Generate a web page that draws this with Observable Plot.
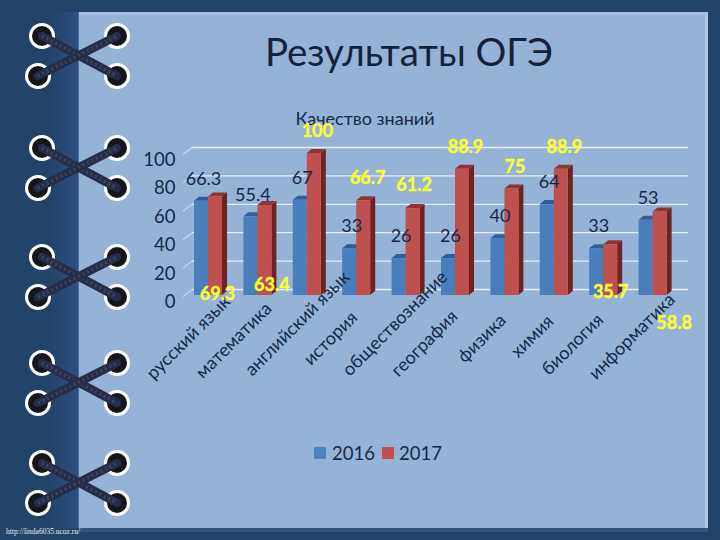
<!DOCTYPE html>
<html><head><meta charset="utf-8">
<script src="https://cdn.jsdelivr.net/npm/d3@7"></script>
<script src="https://cdn.jsdelivr.net/npm/@observablehq/plot@0.6"></script>
<style>
html,body{margin:0;padding:0;width:720px;height:540px;overflow:hidden;background:#234469;font-family:Lato,"Noto Sans",sans-serif;color:#14294a}
#strip{position:absolute;left:0;top:12px;width:79px;height:516px;background:linear-gradient(90deg,#234469 0%,#234469 65%,#2d5080 100%)}
#panel{position:absolute;left:79px;top:12px;width:626px;height:513px;background:#95b3d7;border-top:3px solid #a7bfe0;border-right:3px solid #b3c6e6;box-shadow:-1px 0 0 #4a6c98}
#foot{position:absolute;left:79px;top:528px;width:629px;height:4px;background:#36547f}
#lace{position:absolute;left:0;top:0}
#title{position:absolute;left:79px;width:660px;top:25px;text-align:center;font-size:38.5px;line-height:52px;color:#14233c}
#sub{position:absolute;left:265px;width:200px;top:104px;text-align:center;font-size:18px;line-height:28px;color:#14294a}
#chart{position:absolute;left:0;top:100px}
#chart svg{overflow:visible}
#legend{position:absolute;top:441px;left:314px;font-size:18.5px;line-height:24px;white-space:nowrap}
#legend span{position:absolute;top:0}
#legend i{position:absolute;top:6px;width:12px;height:12px}
#url{position:absolute;left:6px;top:527px;font:7.5px "Liberation Serif",serif;color:#e6edf5}
</style></head><body>
<div id="strip"></div>
<div id="panel"></div>
<div id="foot"></div>
<svg id="lace" width="720" height="540"></svg>
<div id="title">Результаты ОГЭ</div>
<div id="sub">Качество знаний</div>
<div id="chart"></div>
<div id="legend"><i style="left:0;background:#4f81bd"></i><span style="left:18px">2016</span><i style="left:68px;background:#c0504d"></i><span style="left:85px">2017</span></div>
<div id="url">http://linda6035.ucoz.ru/</div>
<script>
const subjects = ["русский язык","математика","английский язык","история","обществознание","география","физика","химия","биология","информатика"];
const values2016 = [66.3,55.4,67,33,26,26,40,64,33,53];
const values2017 = [69.3,63.4,100,66.7,61.2,88.9,75,88.9,35.7,58.8];
const yTicks = [0,20,40,60,80,100];
const laceRows = [36,148,257,363,463];

// label placement, as offsets from the scaled anchor
const labelDx = [-20,-24,-10,-26,-11,-31,-23,-22,-31,-21];
const labelDy = [42,45,28,43,28,48,43,41,49,41];
const yellowDx = [2,7,3,4,1,3,3,3,0,14];
const yellowDy = [97,80,-22,-23,-23,-22,-22,-22,47,111];

const rows2016 = subjects.map((s,i)=>({subject:s,year:"2016",value:values2016[i]}));
const rows2017 = subjects.map((s,i)=>({subject:s,year:"2017",value:values2017[i]}));

// extrude a bar's rect into top and side faces
const DX=5, DY=4, HALF=14, SERIES_SHIFT=7;
function extrude(topFill, sideFill){
  return function(index, scales, values, dims, ctx, next){
    const g = next(index, scales, values, dims, ctx);
    d3.select(g).selectAll("rect").each(function(){
      const r=this, x=+r.getAttribute("x"), y=+r.getAttribute("y"),
            w=+r.getAttribute("width"), h=+r.getAttribute("height");
      const parent=d3.select(r.parentNode);
      parent.insert("path",()=>r).attr("fill",topFill)
        .attr("d",`M${x},${y}L${x+DX},${y-DY}L${x+w+DX},${y-DY}L${x+w},${y}Z`);
      parent.insert("path",()=>r).attr("fill",sideFill)
        .attr("d",`M${x+w},${y}L${x+w+DX},${y-DY}L${x+w+DX},${y+h-DY}L${x+w},${y+h}Z`);
    });
    return g;
  };
}
function wallLines(index, scales, values, dims, ctx, next){
  const g = next(index, scales, values, dims, ctx);
  d3.select(g).selectAll("line").each(function(){
    const l=this, x=+l.getAttribute("x1"), y=+l.getAttribute("y1");
    d3.select(l.parentNode).append("path").attr("fill","none").attr("stroke","#c9d8ea").attr("stroke-width",1.2)
      .attr("d",`M${x},${y}L${x-9},${y+7}`);
  });
  return g;
}

const chart = Plot.plot({
  width:720, height:300,
  marginTop:53, marginBottom:105, marginLeft:192, marginRight:32,
  style:{background:"transparent",overflow:"visible",fontFamily:"Lato,'Noto Sans',sans-serif"},
  x:{type:"band",domain:subjects,range:[194,666.6],round:false,paddingInner:0.433,paddingOuter:0,axis:null,label:null},
  y:{domain:[0,100],axis:null,label:null},
  marks:[
    Plot.ruleY(yTicks,{y:d=>d,dy:-6,stroke:"#e6eef7",strokeWidth:1.3,render:wallLines}),
    Plot.axisY({ticks:yTicks,tickSize:0,tickPadding:17,dy:6.5,fontSize:18.5,fill:"#14294a",label:null}),
    Plot.barY(rows2016,{x:"subject",y:"value",insetRight:HALF,fill:"#4a7ebb",render:extrude("#2f5f96","#28507f")}),
    Plot.barY(rows2017,{x:"subject",y:"value",insetLeft:HALF,fill:"#c0504d",render:extrude("#8f3431","#6d2320")}),
    ...subjects.map((s,i)=>Plot.text([s],{x:d=>d,text:d=>d,frameAnchor:"bottom",lineAnchor:"middle",textAnchor:"middle",rotate:-45,dx:labelDx[i],dy:labelDy[i],fontSize:18,fill:"#14294a"})),
    Plot.text(rows2016,{x:"subject",y:"value",text:d=>String(d.value),dx:2-SERIES_SHIFT,dy:-22,fontSize:18,fill:"#14294a"}),
    ...rows2017.map((d,i)=>Plot.text([d],{x:"subject",y:"value",text:r=>String(r.value),dx:yellowDx[i]+SERIES_SHIFT,dy:yellowDy[i],fontSize:18,fontWeight:"bold",fill:"#ffff22",stroke:"#dfe8a0",strokeWidth:0.5}))
  ]
});
document.getElementById("chart").appendChild(chart);

// decorative binding lacing
const lace = d3.select("#lace");
const holes = [[42,0],[117,0],[38,40],[117,40]];
for (const top of laceRows){
  for (const [x,dy] of holes){
    lace.append("circle").attr("cx",x).attr("cy",top+dy).attr("r",13).attr("fill","#fff");
    lace.append("circle").attr("cx",x).attr("cy",top+dy).attr("r",10).attr("fill","#15151d");
  }
  for (const [a,b] of [[holes[0],holes[3]],[holes[2],holes[1]]]){
    const seg = lace.append("g");
    seg.append("line").attr("x1",a[0]).attr("y1",top+a[1]).attr("x2",b[0]).attr("y2",top+b[1])
      .attr("stroke","#262d48").attr("stroke-width",8.5).attr("stroke-linecap","round");
    seg.append("line").attr("x1",a[0]).attr("y1",top+a[1]).attr("x2",b[0]).attr("y2",top+b[1])
      .attr("stroke","#3b4566").attr("stroke-width",3.5).attr("stroke-dasharray","2 3");
  }
}
</script>
</body></html>
